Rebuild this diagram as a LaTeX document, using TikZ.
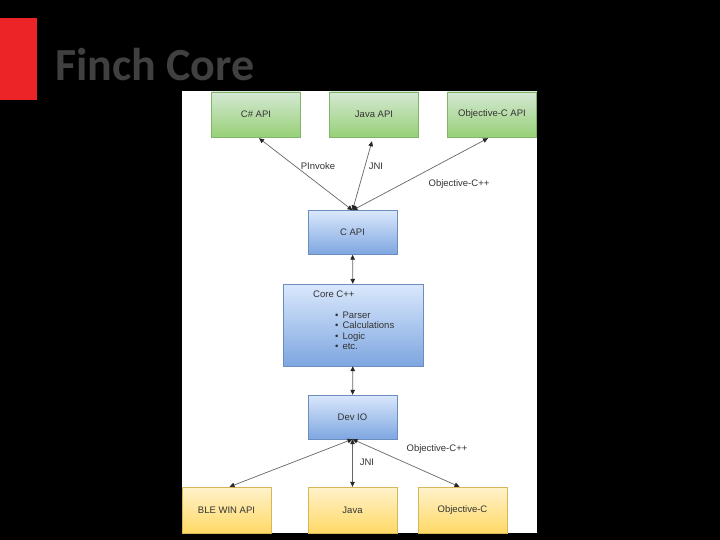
\documentclass[tikz,border=0pt]{standalone}
\usepackage{fontspec}
\setmainfont{Liberation Sans}
\newfontfamily\titlefont{Carlito}
\usetikzlibrary{arrows.meta,positioning}
\definecolor{txtgray}{HTML}{333333}
\definecolor{titlegray}{HTML}{404040}
\definecolor{slidered}{RGB}{236,36,40}
\definecolor{grtop}{HTML}{D5E8D4}
\definecolor{grbot}{HTML}{97D077}
\definecolor{grline}{HTML}{82B366}
\definecolor{bltop}{HTML}{DAE8FC}
\definecolor{blbot}{HTML}{7EA6E0}
\definecolor{blline}{HTML}{6C8EBF}
\definecolor{yetop}{HTML}{FFF2CC}
\definecolor{yebot}{HTML}{FFD966}
\definecolor{yeline}{HTML}{D6B656}
\definecolor{arrgray}{HTML}{666666}

\begin{document}
\begin{tikzpicture}[x=1pt, y=-1pt, >={Triangle[length=5pt,width=4.5pt,color=black!85]},
    every node/.style={align=center, text=txtgray, font=\fontsize{9.5}{10.5}\selectfont},
    apibox/.style={draw=grline, top color=grtop, bottom color=grbot, minimum width=89pt, minimum height=45pt},
    corebox/.style={draw=blline, top color=bltop, bottom color=blbot, minimum width=89pt, minimum height=44pt},
    platbox/.style={draw=yeline, top color=yetop, bottom color=yebot, minimum width=89pt, minimum height=46pt},
    link/.style={<->, draw=arrgray, line width=0.7pt}]
    \useasboundingbox (0,0) rectangle (720,540);
    \fill[black] (0,0) rectangle (720,540);
    \fill[white] (182,91) rectangle (537,533);
    \fill[slidered] (0,18) rectangle (37,100);
    \node[anchor=base west, inner sep=0, text=titlegray, font=\titlefont\bfseries\fontsize{46}{50}\selectfont] (title) at (55,81) {Finch Core};

    % language bindings
    \node[apibox] (csharp) at (256,114.5) {C\# API};
    \node[apibox] (javaapi) at (374,114.5) {Java API};
    \node[apibox] (objcapi) at (492,114.5) {Objective-C API};

    % core layers
    \node[corebox] (capi) at (352.5,232.5) {C API};
    \node[corebox, minimum width=140pt, minimum height=82pt] (core) at (353,325) {};
    \node[anchor=north west, inner sep=0, align=left] (corelist) at (313,291)
      {Core C++\\[10pt]
       \hspace{22pt}\textbullet\hspace{4pt}Parser\\
       \hspace{22pt}\textbullet\hspace{4pt}Calculations\\
       \hspace{22pt}\textbullet\hspace{4pt}Logic\\
       \hspace{22pt}\textbullet\hspace{4pt}etc.};
    \node[corebox] (devio) at (352.5,417) {Dev IO};

    % platform layers
    \node[platbox] (blewin) at (226.5,510) {BLE WIN API};
    \node[platbox] (java) at (352.5,510) {Java};
    \node[platbox] (objc) at (462.5,510) {Objective-C};

    \draw[link] (capi.north) -- ([xshift=3pt,yshift=-1pt]csharp.south);
    \draw[link] (capi.north) -- ([xshift=-2pt,yshift=-4pt]javaapi.south);
    \draw[link] (capi.north) -- ([xshift=-4pt,yshift=-1pt]objcapi.south);
    \draw[link] (capi) -- (core);
    \draw[link] (core) -- (devio);
    \draw[link] (devio.south) -- ([xshift=3pt]blewin.north);
    \draw[link] (devio.south) -- (java.north);
    \draw[link] (devio.south) -- ([xshift=-3pt]objc.north);

    \node (pinvoke) at (318,166) {PInvoke};
    \node (jnitop) at (376,166) {JNI};
    \node (objcpptop) at (459,184) {Objective-C++};
    \node (jnibot) at (367,462) {JNI};
    \node (objcppbot) at (437,449) {Objective-C++};
\end{tikzpicture}
\end{document}
